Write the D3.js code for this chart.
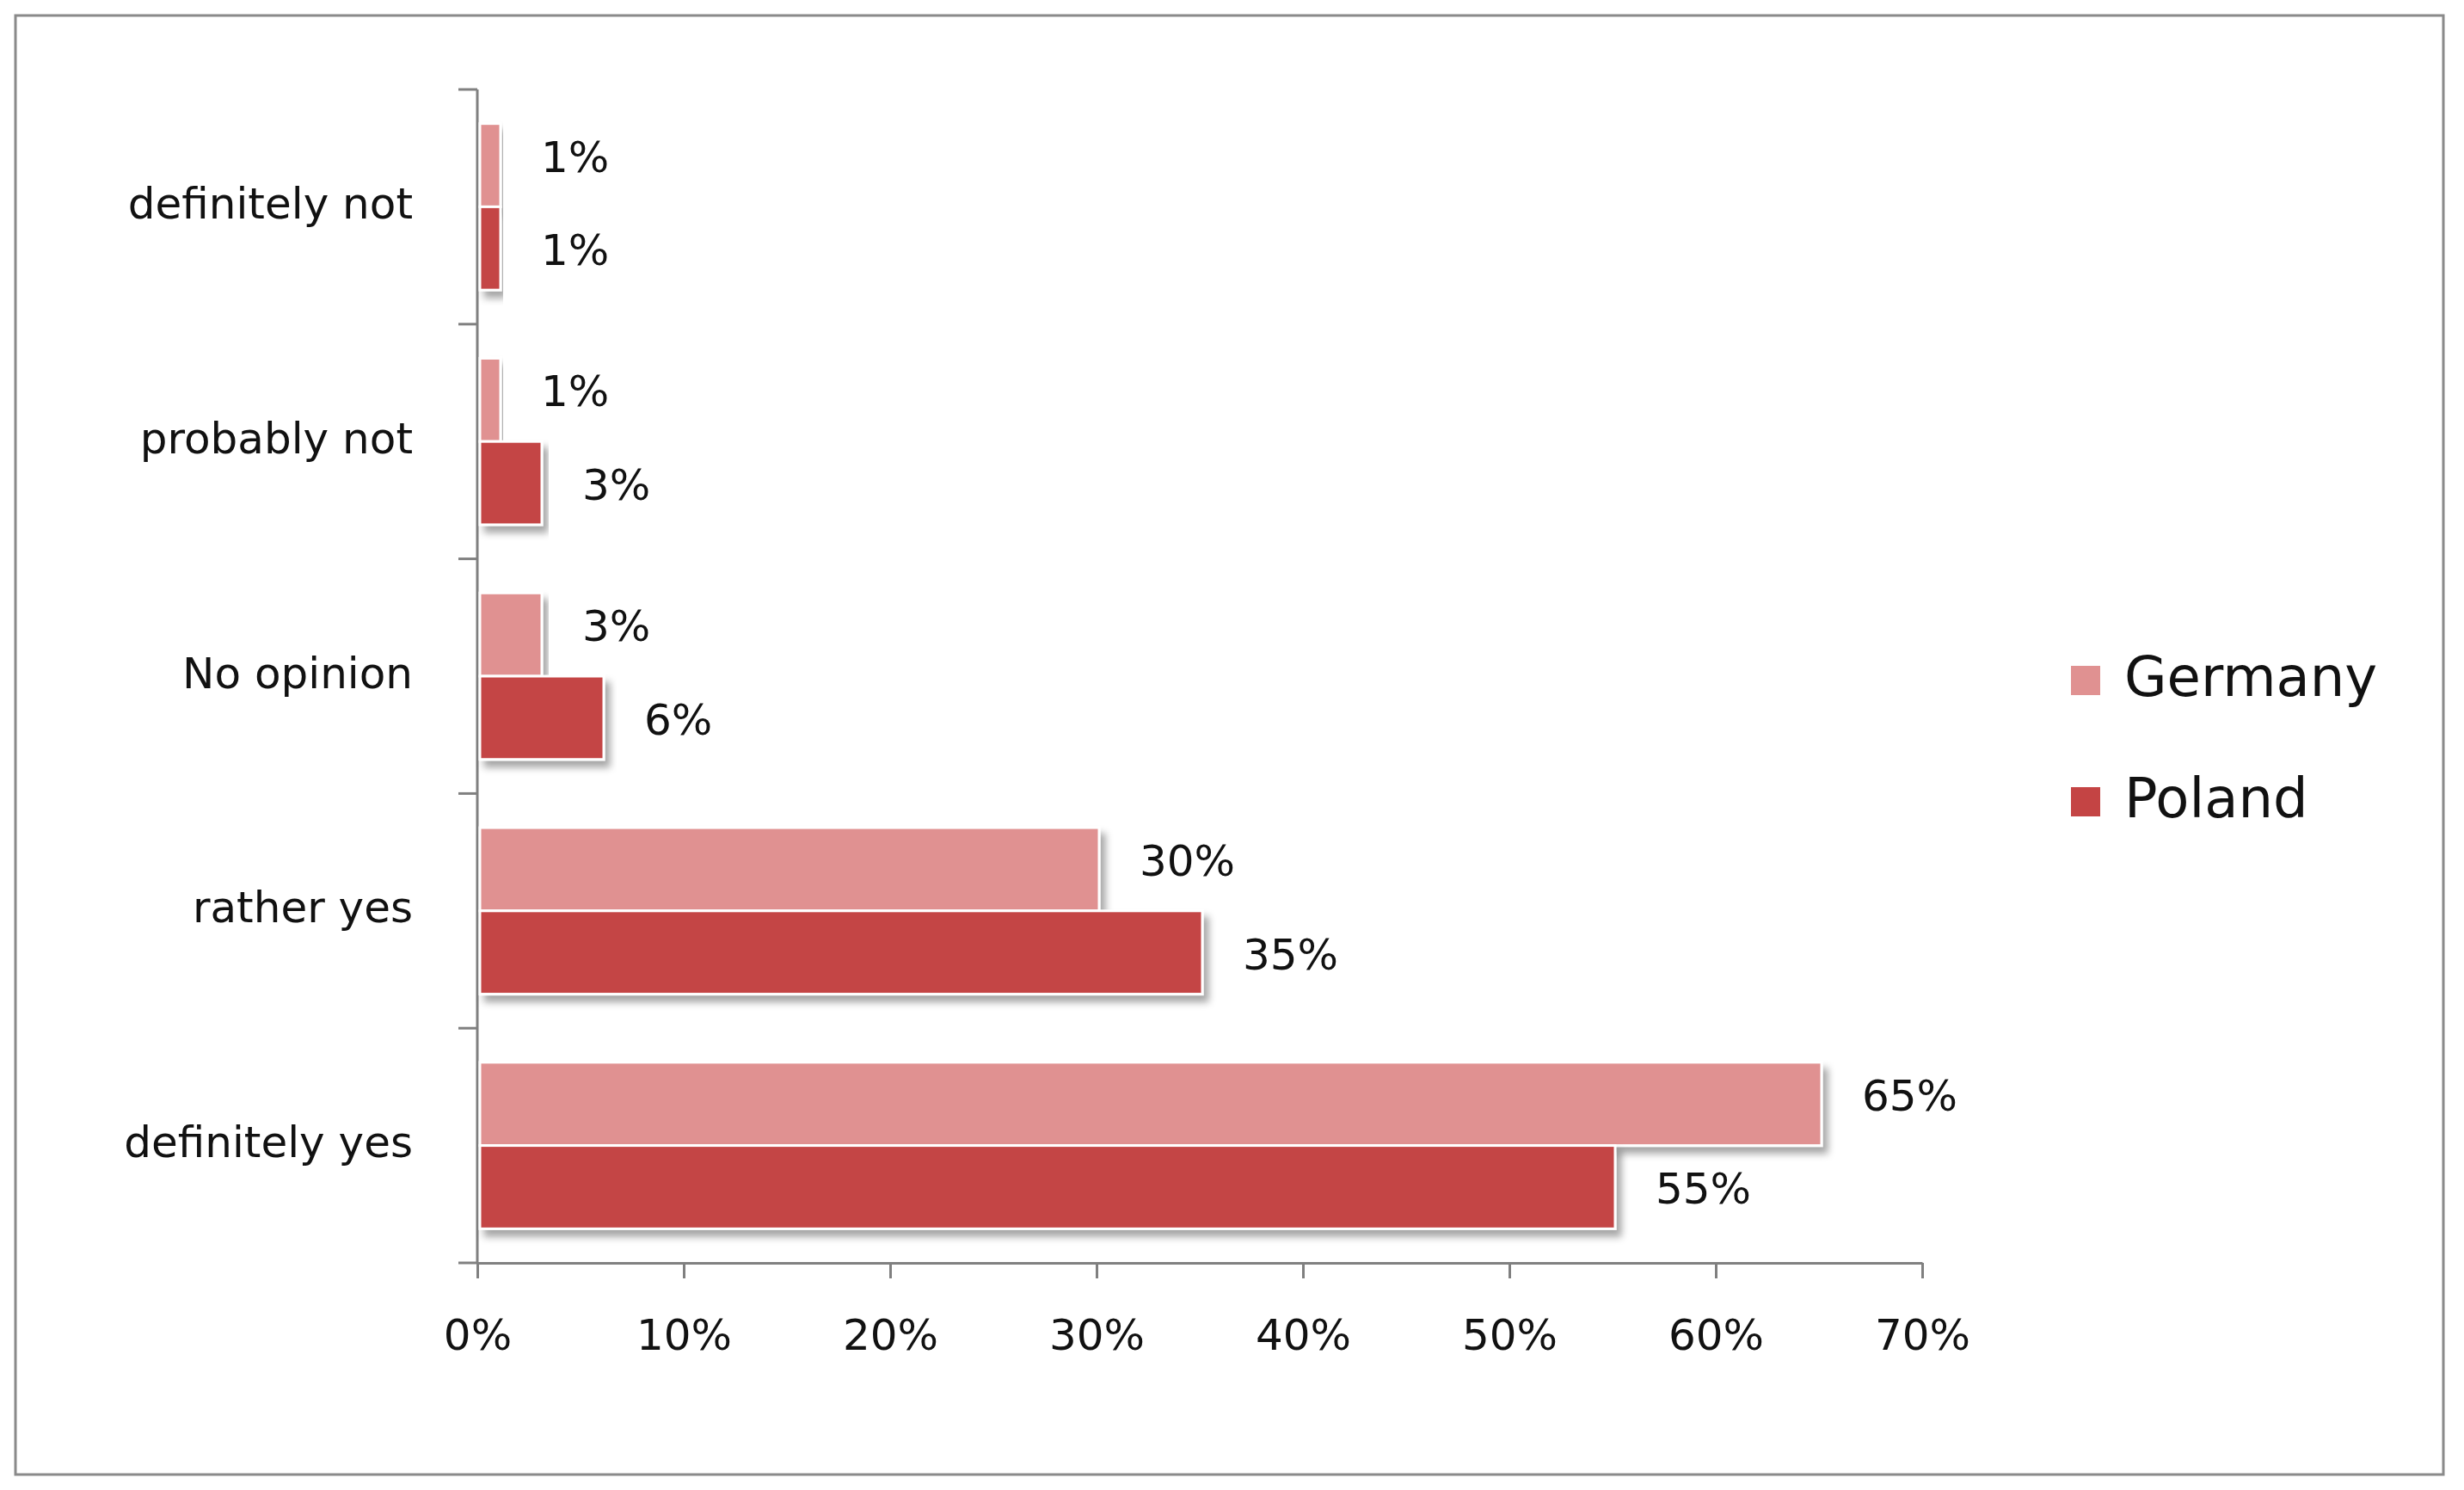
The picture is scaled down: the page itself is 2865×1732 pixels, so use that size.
<!DOCTYPE html>
<html><head><meta charset="utf-8">
<script src="https://cdn.jsdelivr.net/npm/d3@7"></script>
<style>body{margin:0;background:#fff}</style>
</head><body>
<svg id="chart" width="2865" height="1732"></svg>
<script>
const categories = ["definitely not", "probably not", "No opinion", "rather yes", "definitely yes"];
const series = ["Germany", "Poland"];
const germany = [1, 1, 3, 30, 65];
const poland = [1, 3, 6, 35, 55];
const xTicks = [0, 10, 20, 30, 40, 50, 60, 70];
const colors = {Germany: "#e09191", Poland: "#c44444"};

const svg = d3.select("#chart");
const font = "'DejaVu Sans', Verdana, sans-serif";

svg.append("rect").attr("x", 18).attr("y", 18).attr("width", 2823).attr("height", 1696)
  .attr("fill", "#fff").attr("stroke", "#8a8a8a").attr("stroke-width", 3);

const x = d3.scaleLinear().domain([0, 70]).range([555, 2235]);
const y = d3.scaleBand().domain(categories).range([104, 1468]);
const inner = d3.scaleBand().domain(series).range([0, y.bandwidth()]).paddingOuter(0.41);

const defs = svg.append("defs");
defs.append("filter").attr("id", "shadow").attr("x", "-5%").attr("y", "-20%").attr("width", "115%").attr("height", "160%")
  .append("feDropShadow").attr("dx", 6).attr("dy", 8).attr("stdDeviation", 4).attr("flood-color", "#000").attr("flood-opacity", 0.35);

// axes
const xAxis = svg.append("g").attr("transform", "translate(0,1468)")
  .call(d3.axisBottom(x).tickValues(xTicks).tickFormat(d => d + "%").tickSize(18).tickSizeOuter(0));
xAxis.select(".domain").attr("stroke", "#808080").attr("stroke-width", 3);
xAxis.selectAll(".tick line").attr("stroke", "#808080").attr("stroke-width", 3);
xAxis.selectAll("text").attr("font-family", font).attr("font-size", 50).attr("fill", "#111").attr("dy", "1.6em");

const yAxis = svg.append("g").attr("transform", "translate(555,0)");
yAxis.append("line").attr("y1", 104).attr("y2", 1468).attr("stroke", "#808080").attr("stroke-width", 3);
yAxis.selectAll(".yt").data(categories.concat([null])).join("line")
  .attr("x1", -22).attr("x2", 0)
  .attr("y1", (d, i) => 104 + i * y.step()).attr("y2", (d, i) => 104 + i * y.step())
  .attr("stroke", "#808080").attr("stroke-width", 3);

svg.append("g").selectAll("text").data(categories).join("text")
  .attr("x", 480).attr("y", d => y(d) + y.bandwidth() / 2)
  .attr("text-anchor", "end").attr("dominant-baseline", "middle")
  .attr("font-family", font).attr("font-size", 50).attr("fill", "#111").text(d => d);

// bars
const rows = categories.map((c, i) => ({c, Germany: germany[i], Poland: poland[i]}));
const g = svg.append("g");
series.forEach(s => {
  g.selectAll(".b" + s).data(rows).join("rect")
    .attr("x", x(0) + 3).attr("y", d => y(d.c) + inner(s))
    .attr("width", d => x(d[s]) - x(0)).attr("height", inner.bandwidth())
    .attr("fill", colors[s]).attr("stroke", "#fff").attr("stroke-width", 3)
    .attr("filter", "url(#shadow)");
  g.selectAll(".t" + s).data(rows).join("text")
    .attr("x", d => x(d[s]) + 50).attr("y", d => y(d.c) + inner(s) + inner.bandwidth() / 2 - (s === "Germany" ? 6 : -6))
    .attr("dominant-baseline", "middle").attr("font-family", font).attr("font-size", 50).attr("fill", "#111")
    .text(d => d[s] + "%");
});

// legend
const leg = svg.append("g");
series.forEach((s, i) => {
  const ly = 791 + i * 141;
  leg.append("rect").attr("x", 2408).attr("y", ly - 17).attr("width", 34).attr("height", 34).attr("fill", colors[s]);
  leg.append("text").attr("x", 2470).attr("y", ly).attr("dominant-baseline", "middle")
    .attr("font-family", font).attr("font-size", 64).attr("fill", "#111").text(s);
});
</script>
</body></html>
